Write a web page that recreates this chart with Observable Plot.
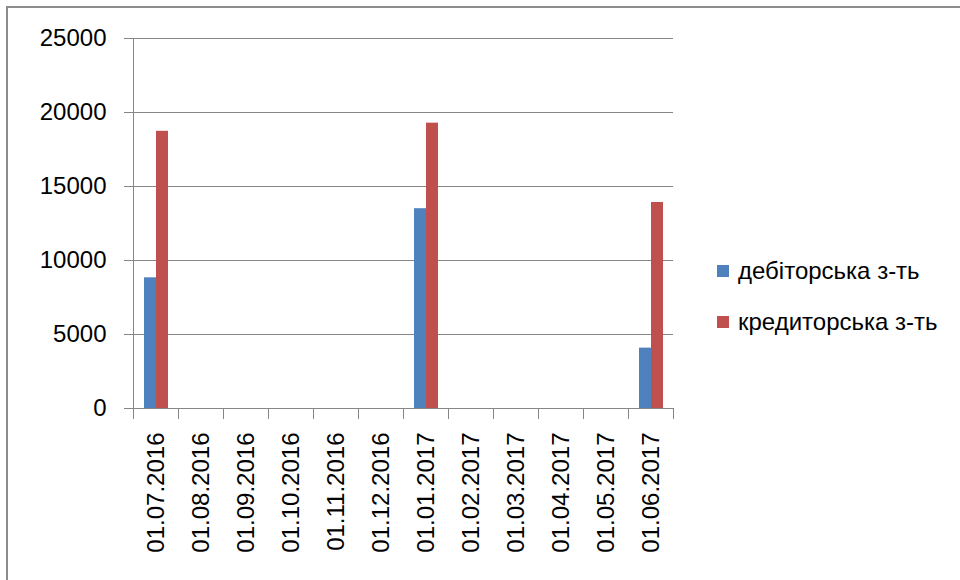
<!DOCTYPE html>
<html>
<head>
<meta charset="utf-8">
<script src="https://cdn.jsdelivr.net/npm/d3@7"></script>
<script src="https://cdn.jsdelivr.net/npm/@observablehq/plot@0.6"></script>
<style>
  html, body { margin: 0; padding: 0; background: #fff; width: 960px; height: 580px; overflow: hidden; }
  #frame { position: absolute; left: 6px; top: 6px; width: 1000px; height: 1000px; border: 2px solid #8c8c8c; box-sizing: border-box; }
  #chart { position: absolute; left: 0; top: 0; }
  #legend { position: absolute; left: 717px; top: 0; font-family: 'Liberation Sans', Arial, sans-serif; font-size: 24px; color: #000; }
  .item { position: absolute; left: 0; white-space: nowrap; display: flex; align-items: center; height: 30px; }
  .sw { width: 12px; height: 12px; margin-right: 9px; }
</style>
</head>
<body>
<div id="frame"></div>
<div id="chart"></div>
<div id="legend"></div>
<script>
const dates = ["01.07.2016","01.08.2016","01.09.2016","01.10.2016","01.11.2016","01.12.2016",
               "01.01.2017","01.02.2017","01.03.2017","01.04.2017","01.05.2017","01.06.2017"];
const seriesNames = ["дебіторська з-ть", "кредиторська з-ть"];
const debitor  = [8830, null, null, null, null, null, 13500, null, null, null, null, 4080];
const creditor = [18730, null, null, null, null, null, 19280, null, null, null, null, 13920];
const yTicks = [0, 5000, 10000, 15000, 20000, 25000];
const colors = ["#4F81BD", "#C0504D"];

const rows = dates.flatMap((d, i) => [
  {date: d, series: seriesNames[0], value: debitor[i]},
  {date: d, series: seriesNames[1], value: creditor[i]}
]);

const gray = "#868686";
const plotH = 580 - 38 - 172;

const chart = Plot.plot({
  width: 960, height: 580,
  marginLeft: 130, marginRight: 284, marginTop: 38, marginBottom: 172,
  style: {fontFamily: "'Liberation Sans', Arial, sans-serif", fontSize: "24px", color: "#000", background: "transparent", overflow: "visible"},
  fx: {domain: dates, padding: 0, label: null},
  x: {domain: seriesNames, paddingInner: 0, paddingOuter: 0.75, axis: null},
  y: {domain: [0, 25000], label: null},
  color: {domain: seriesNames, range: colors},
  marks: [
    Plot.ruleY(yTicks, {stroke: gray}),
    Plot.frame({anchor: "left", facetAnchor: "left", stroke: gray}),
    Plot.frame({anchor: "left", insetTop: plotH, insetBottom: -10, stroke: gray}),
    Plot.frame({anchor: "right", insetTop: plotH, insetBottom: -10, stroke: gray, facetAnchor: "right"}),
    Plot.barY(rows, {fx: "date", x: "series", y: "value", fill: "series"}),
    Plot.axisY(yTicks, {tickSize: 9, tickPadding: 18, tickFormat: d => String(d), stroke: gray, fill: "#000", label: null, fontSize: 24}),
    Plot.axisFx({anchor: "bottom", tickSize: 0, tickPadding: 24, tickRotate: -90, label: null, fill: "#000", fontSize: 24})
  ]
});
document.getElementById("chart").appendChild(chart);

const legend = document.getElementById("legend");
const centers = [271, 322];
seriesNames.forEach((name, i) => {
  const item = document.createElement("div");
  item.className = "item";
  item.style.top = (centers[i] - 15) + "px";
  const sw = document.createElement("span");
  sw.className = "sw";
  sw.style.background = colors[i];
  const label = document.createElement("span");
  label.textContent = name;
  item.appendChild(sw);
  item.appendChild(label);
  legend.appendChild(item);
});
</script>
</body>
</html>
